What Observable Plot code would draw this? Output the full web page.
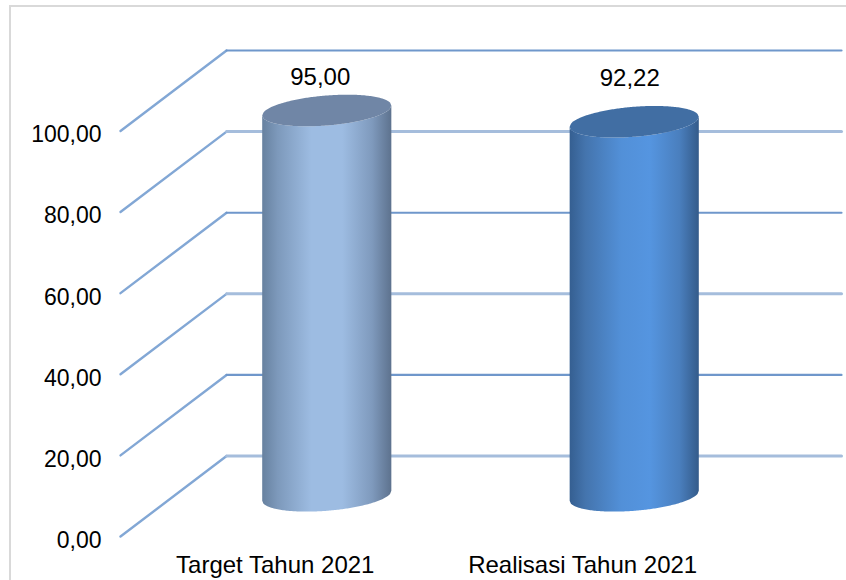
<!DOCTYPE html>
<html>
<head>
<meta charset="utf-8">
<script src="https://cdn.jsdelivr.net/npm/d3@7"></script>
<script src="https://cdn.jsdelivr.net/npm/@observablehq/plot@0.6"></script>
<style>
html,body{margin:0;padding:0;background:#fff;overflow:hidden}
#frame{position:absolute;left:9px;top:5px;width:846px;height:590px;border-left:2px solid #d9d9d9;border-top:2px solid #d9d9d9}
#chart{position:absolute;left:0;top:0}
svg{display:block;background:transparent}
</style>
</head>
<body>
<div id="frame"></div>
<div id="chart"></div>
<script>
const categories = ["Target Tahun 2021", "Realisasi Tahun 2021"];
const values = [95.00, 92.22];
const valueLabels = ["95,00", "92,22"];
const ticks = [0, 20, 40, 60, 80, 100];
const tickLabels = ["0,00", "20,00", "40,00", "60,00", "80,00", "100,00"];

// view settings of the pseudo-3D plot, in scale units
const depthX = 0.345, depthY = 19.83;
const halfW = 0.21, capB = 3.7, capShear = 1.23;
const palette = [
  {id: "gradA", cap: "#7086a6", stops: [["0%", "#67819f"], ["12%", "#7d99bb"], ["38%", "#9dbce2"], ["62%", "#9dbce2"], ["85%", "#7f9abd"], ["100%", "#5d728e"]]},
  {id: "gradB", cap: "#416ea3", stops: [["0%", "#355f91"], ["12%", "#4474ad"], ["40%", "#5290d8"], ["62%", "#5595e0"], ["85%", "#4a7fbe"], ["100%", "#345b8a"]]}
];
const labelDy = [-34, -44];
const labelDx = [-7, -5];

const diagonals = ticks.flatMap(t => [
  {t, x: 0, y: t},
  {t, x: depthX, y: t + depthY}
]);
const backLines = ticks.flatMap((t, i) => [
  {t, band: i % 2, x: depthX, y: t + depthY},
  {t, band: i % 2, x: 2 + depthX, y: t + depthY}
]);

// sheared ellipse arcs: one sample per step across the cylinder
const us = d3.range(-1, 1.0001, 0.02);
function arc(cx, base, sign) {
  return us.map(u => ({
    x: cx + u * halfW,
    y: base + capShear * u + sign * capB * Math.sqrt(Math.max(0, 1 - u * u))
  }));
}
const cylinders = values.map((v, i) => {
  const cx = i + 0.5 + depthX / 2;
  const top = v + depthY / 2, bottom = depthY / 2;
  const lowTop = arc(cx, top, -1), upTop = arc(cx, top, 1), lowBot = arc(cx, bottom, -1);
  return {
    body: us.map((u, k) => ({x: lowTop[k].x, y1: lowBot[k].y, y2: lowTop[k].y})),
    cap: us.map((u, k) => ({x: lowTop[k].x, y1: lowTop[k].y, y2: upTop[k].y})),
    cx, top
  };
});

const defs = () => {
  const d = d3.create("svg:defs");
  for (const p of palette) {
    const g = d.append("linearGradient").attr("id", p.id).attr("x1", 0).attr("x2", 1).attr("y1", 0).attr("y2", 0);
    for (const [o, c] of p.stops) g.append("stop").attr("offset", o).attr("stop-color", c);
  }
  return d.node();
};

const font = "Liberation Sans, Arial, sans-serif";
const chart = Plot.plot({
  width: 846, height: 580,
  marginLeft: 120, marginRight: 5, marginTop: 50, marginBottom: 44,
  style: {background: "transparent", fontFamily: font},
  x: {domain: [0, 2 + depthX], axis: null},
  y: {domain: [0, 100 + depthY], axis: null},
  marks: [
    defs,
    Plot.line(diagonals, {x: "x", y: "y", z: "t", stroke: "#82a7d5", strokeWidth: 2.4}),
    Plot.line(backLines.filter(d => d.band === 1), {x: "x", y: "y", z: "t", stroke: "#6f97cb", strokeWidth: 2.2}),
    Plot.line(backLines.filter(d => d.band === 0), {x: "x", y: "y", z: "t", stroke: "#a5bddc", strokeWidth: 3}),
    ...cylinders.flatMap((c, i) => [
      Plot.areaY(c.body, {x: "x", y1: "y1", y2: "y2", fill: `url(#${palette[i].id})`}),
      Plot.areaY(c.cap, {x: "x", y1: "y1", y2: "y2", fill: palette[i].cap}),
      Plot.text([valueLabels[i]], {x: () => c.cx, y: () => c.top, text: d => d, dx: labelDx[i], dy: labelDy[i], fontSize: 24, fill: "#000"})
    ]),
    Plot.text(ticks, {x: () => 0, y: d => d, text: (d, i) => tickLabels[i], textAnchor: "end", dx: -19, dy: 4, fontSize: 23, fill: "#000"}),
    Plot.text(categories, {x: (d, i) => i + 0.5, y: () => 0, text: d => d, dx: 1, dy: 29, fontSize: 24, fill: "#000"})
  ]
});
document.getElementById("chart").append(chart);
</script>
</body>
</html>
